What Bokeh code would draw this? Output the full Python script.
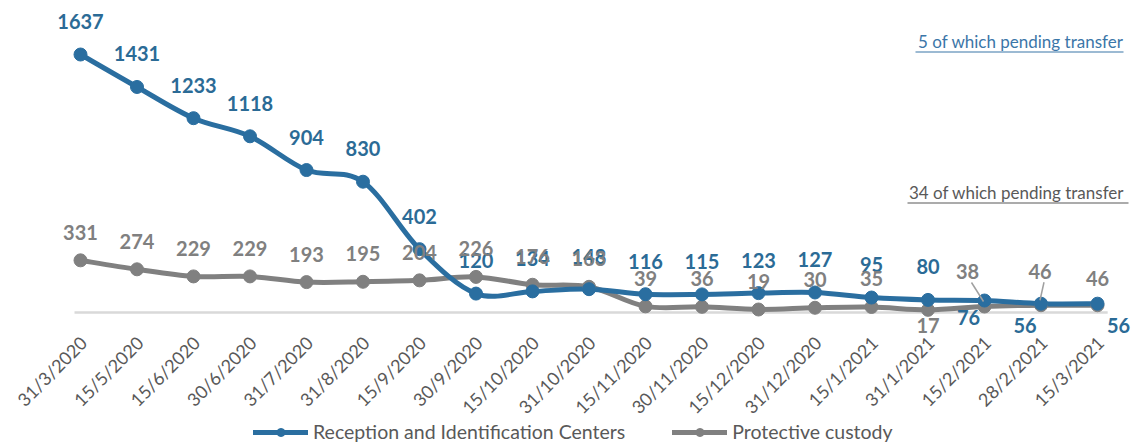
import numpy as np
from bokeh.plotting import figure
from bokeh.models import (ColumnDataSource, Range1d, LabelSet, Label,
                          Legend, LegendItem, BoxAnnotation)
from bokeh.core.properties import value
from bokeh.embed import file_html
from bokeh.resources import INLINE

# ---------------- data ----------------
dates = ["31/3/2020", "15/5/2020", "15/6/2020", "30/6/2020", "31/7/2020", "31/8/2020",
         "15/9/2020", "30/9/2020", "15/10/2020", "31/10/2020", "15/11/2020", "30/11/2020",
         "15/12/2020", "31/12/2020", "15/1/2021", "31/1/2021", "15/2/2021", "28/2/2021",
         "15/3/2021"]
ric = [1637, 1431, 1233, 1118, 904, 830, 402, 120, 134, 148, 116, 115, 123, 127, 95, 80, 76, 56, 56]
pc = [331, 274, 229, 229, 193, 195, 204, 226, 176, 163, 39, 36, 19, 30, 35, 17, 38, 46, 46]
series_names = ["Reception and Identification Centers", "Protective custody"]
note_ric = "5 of which pending transfer"
note_pc = "34  of which pending transfer"

# ---------------- style ----------------
BLUE = "#2A6EA0"
BLUE_TXT = "#2B6B96"
GREY = "#808080"
FONT = "Lato"

# label pixel offsets (style, not data)
ric_dx = [0] * 16 + [-16, -16, 21]
ric_dy = [33] * 16 + [-17, -22, -22]
pc_dx = [0] * 15 + [0, -17, -1, 0]
pc_dy = [28] * 15 + [-16, 35, 34, 27]

W, H = 1131, 443
XPX = 56.5            # px per category
YPX = 0.1576          # px per unit
X0 = -80 / XPX
X1 = X0 + W / XPX
Y1 = 312 / YPX
Y0 = Y1 - H / YPX
BASE_X0, BASE_X1 = -0.106, 18.18   # extent of the baseline (axis) line
TICK_LABEL_Y = (312 - 339) / YPX    # where the category labels hang

p = figure(frame_width=W, frame_height=H, output_backend="svg", toolbar_location=None,
           x_range=Range1d(X0, X1), y_range=Range1d(Y0, Y1),
           min_border_left=0, min_border_right=0, min_border_top=0,
           min_border_bottom=0)
p.outline_line_color = None
p.grid.visible = False
p.xaxis.visible = False
p.yaxis.visible = False
p.background_fill_color = "white"
p.border_fill_color = "white"

xs = np.arange(len(dates), dtype=float)

# baseline (category axis line) at zero
p.add_layout(BoxAnnotation(left=BASE_X0, right=BASE_X1, bottom=-1.2 / YPX, top=1.2 / YPX,
                           fill_color="#D9D9D9", fill_alpha=1, line_color=None, level="underlay"))

# category labels, rotated 45 degrees
src_dates = ColumnDataSource(dict(x=xs, y=[TICK_LABEL_Y] * len(dates), t=dates))
p.add_layout(LabelSet(x="x", y="y", text="t", source=src_dates, x_offset=3, angle=np.pi / 4,
                      text_align="right", text_baseline="middle",
                      text_font=value(FONT), text_font_size=value("18px"),
                      text_color="#595959"))


def bezier_source(ys):
    ys = np.asarray(ys, dtype=float)
    P = np.column_stack([xs, ys])
    Pm = np.vstack([P[0], P[:-1]])      # previous
    Pp = np.vstack([P[1:], P[-1]])      # next
    t = 6.0
    c0 = P[:-1] + (Pp[:-1] - Pm[:-1]) / t
    c1 = P[1:] - (Pp[1:] - Pm[1:]) / t
    return ColumnDataSource(dict(x0=P[:-1, 0], y0=P[:-1, 1], x1=P[1:, 0], y1=P[1:, 1],
                                 cx0=c0[:, 0], cy0=c0[:, 1], cx1=c1[:, 0], cy1=c1[:, 1]))


r_pc_line = p.bezier("x0", "y0", "x1", "y1", "cx0", "cy0", "cx1", "cy1",
                     source=bezier_source(pc), line_color=GREY, line_width=5, line_cap="round")
r_ric_line = p.bezier("x0", "y0", "x1", "y1", "cx0", "cy0", "cx1", "cy1",
                      source=bezier_source(ric), line_color=BLUE, line_width=5, line_cap="round")

src_pc = ColumnDataSource(dict(x=xs, y=pc, t=[str(v) for v in pc], dx=pc_dx, dy=pc_dy))
src_ric = ColumnDataSource(dict(x=xs, y=ric, t=[str(v) for v in ric], dx=ric_dx, dy=ric_dy))

r_pc_pts = p.scatter("x", "y", source=src_pc, size=13, fill_color=GREY, line_color=GREY)
r_ric_pts = p.scatter("x", "y", source=src_ric, size=13, fill_color=BLUE, line_color=BLUE)

# leader lines for a few moved grey labels
lead_idx = [16, 17]
lead_src = ColumnDataSource(dict(
    xa=[xs[i] + (pc_dx[i] + 4) / XPX for i in lead_idx],
    ya=[pc[i] + (pc_dy[i] - 11) / YPX for i in lead_idx],
    xb=[xs[i] - 1 / XPX for i in lead_idx],
    yb=[pc[i] + 5 / YPX for i in lead_idx]))
p.segment("xa", "ya", "xb", "yb", source=lead_src, line_color="#A0A0A0", line_width=1.5)

for src, col in ((src_ric, BLUE_TXT), (src_pc, GREY)):
    p.add_layout(LabelSet(x="x", y="y", text="t", source=src, x_offset="dx", y_offset="dy",
                          text_align="center", text_baseline="middle",
                          text_font=value(FONT), text_font_style="bold",
                          text_font_size=value("20px"), text_color=col))

# notes on the right
NOTE1_X = X0 + 1123 / XPX
NOTE2_X = X0 + 1128 / XPX
p.add_layout(Label(x=NOTE1_X, y=(312 - 41) / YPX, text=note_ric, text_align="right",
                   text_baseline="middle", text_font=FONT, text_font_size="17px",
                   text_color="#3B76A8"))
p.add_layout(Label(x=NOTE2_X, y=(312 - 192) / YPX, text=note_pc, text_align="right",
                   text_baseline="middle", text_font=FONT, text_font_size="17px",
                   text_color="#595959"))
p.add_layout(BoxAnnotation(left=NOTE1_X - 208 / XPX, right=NOTE1_X,
                           bottom=(312 - 52) / YPX, top=(312 - 51) / YPX,
                           fill_color="#3B76A8", fill_alpha=1, line_color=None))
p.add_layout(BoxAnnotation(left=NOTE2_X - 221 / XPX, right=NOTE2_X,
                           bottom=(312 - 203) / YPX, top=(312 - 202) / YPX,
                           fill_color="#595959", fill_alpha=1, line_color=None))

legend = Legend(items=[LegendItem(label=series_names[0], renderers=[r_ric_line, r_ric_pts]),
                       LegendItem(label=series_names[1], renderers=[r_pc_line, r_pc_pts])],
                orientation="horizontal", location=(253, 0),
                glyph_width=55, glyph_height=20, label_height=20, label_standoff=5,
                spacing=47, padding=0, margin=0, border_line_color=None,
                background_fill_alpha=0, label_text_font=FONT,
                label_text_font_size="19.5px", label_text_color="#595959")
p.add_layout(legend)

open("out.html", "w").write(file_html(p, INLINE))
